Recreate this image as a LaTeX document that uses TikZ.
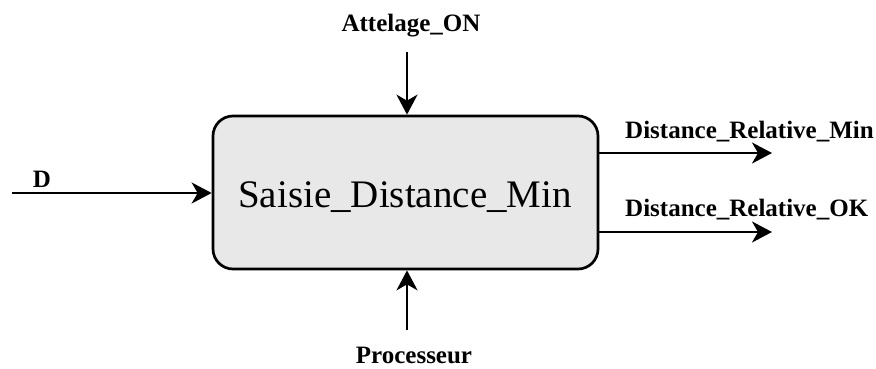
\documentclass[tikz,border=0pt]{standalone}
\usepackage{fontspec}
\setmainfont{Liberation Serif}
\usetikzlibrary{arrows.meta}
\definecolor{boxfill}{HTML}{E8E8E8}
\tikzset{
  mainbox/.style={draw=black, line width=2.7pt, fill=boxfill, rounded corners=20pt, minimum width=385pt, minimum height=153pt, inner sep=0pt},
  flow/.style={line width=2.3pt, -{Stealth[length=20pt,width=21pt,inset=6pt]}},
  lbl/.style={font=\fontsize{25}{25}\selectfont\bfseries, inner sep=0pt}
}
\begin{document}
\begin{tikzpicture}[x=1pt,y=-1pt]
\useasboundingbox (0,0) rectangle (876,369);
\node[mainbox] (box) at (405.5,192.5) {};
\node[anchor=base, inner sep=0pt, font=\fontsize{39}{39}\selectfont] (title) at (405,207) {Saisie\_Distance\_Min};
\coordinate (topstart) at (407,52);
\coordinate (botstart) at (407,330);
\coordinate (dstart) at (12,193);
\coordinate (out1) at (772,153);
\coordinate (out2) at (772,232);
\draw[flow] (topstart) -- (box.north -| topstart);
\draw[flow] (botstart) -- (box.south -| botstart);
\draw[flow] (dstart) -- (box.west |- dstart);
\draw[flow] (box.east |- out1) -- (out1);
\draw[flow] (box.east |- out2) -- (out2);
\node[lbl, anchor=base] (latt) at (411,32) {Attelage\_ON};
\node[lbl, anchor=base] (lproc) at (414,363) {Processeur};
\node[lbl, anchor=base] (ld) at (42,187) {D};
\node[lbl, anchor=base west] (lmin) at (625,139) {Distance\_Relative\_Min};
\node[lbl, anchor=base west] (lok) at (625,216) {Distance\_Relative\_OK};
\end{tikzpicture}
\end{document}
